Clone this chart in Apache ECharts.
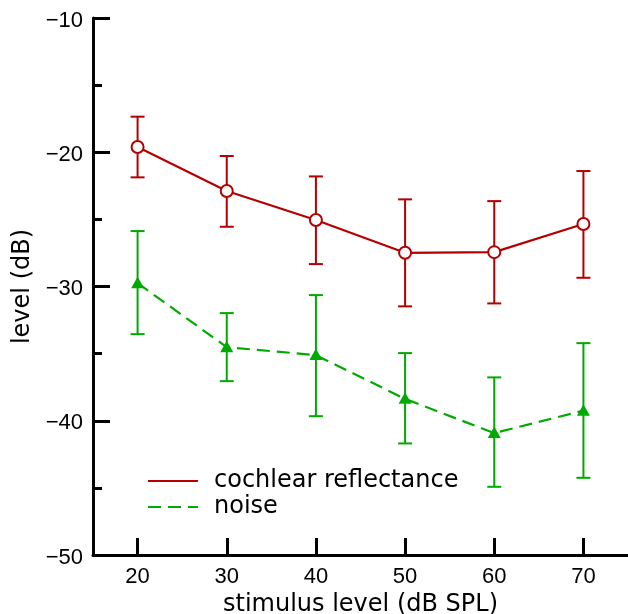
<!DOCTYPE html>
<html>
<head>
<meta charset="utf-8">
<script src="https://cdn.jsdelivr.net/npm/echarts@6/dist/echarts.min.js"></script>
<style>html,body{margin:0;padding:0;background:#fff}#c{width:628px;height:614px}</style>
</head>
<body>
<div id="c"></div>
<script>
const stimulus = [20, 30, 40, 50, 60, 70];
const xTicks = [20, 30, 40, 50, 60, 70];
const reflMean = [-19.61, -22.89, -25.05, -27.49, -27.44, -25.35];
const reflLow  = [-21.87, -25.55, -28.33, -31.48, -31.26, -29.35];
const reflHigh = [-17.35, -20.28, -21.80, -23.51, -23.64, -21.40];
const noiseMean = [-29.75, -34.52, -35.11, -38.37, -40.92, -39.25];
const noiseLow  = [-33.55, -37.05, -39.66, -41.69, -44.92, -44.25];
const noiseHigh = [-25.87, -31.98, -30.64, -34.96, -36.77, -34.22];

const RED = '#b40000';
const GREEN = '#00aa00';
const FONT = 'DejaVu Sans';
const TICKFONT = 'Liberation Sans';

function errSeries(color, mean, low, high, marker) {
  return {
    type: 'custom',
    z: 5,
    silent: true,
    data: stimulus.map((x, i) => [x, low[i], high[i], mean[i]]),
    renderItem: function (params, api) {
      const x = api.value(0);
      const lo = api.coord([x, api.value(1)]);
      const hi = api.coord([x, api.value(2)]);
      const m = api.coord([x, api.value(3)]);
      const hw = 7;
      const ls = { stroke: color, lineWidth: 2 };
      const children = [
        { type: 'line', shape: { x1: lo[0], y1: lo[1], x2: hi[0], y2: hi[1] }, style: ls },
        { type: 'line', shape: { x1: lo[0] - hw, y1: lo[1], x2: lo[0] + hw, y2: lo[1] }, style: ls },
        { type: 'line', shape: { x1: hi[0] - hw, y1: hi[1], x2: hi[0] + hw, y2: hi[1] }, style: ls }
      ];
      if (marker === 'circle') {
        children.push({ type: 'circle', shape: { cx: m[0], cy: m[1], r: 6 }, style: { fill: '#fff', stroke: color, lineWidth: 2 } });
      } else {
        children.push({ type: 'polygon', shape: { points: [[m[0], m[1] - 6.5], [m[0] + 6.5, m[1] + 5], [m[0] - 6.5, m[1] + 5]] }, style: { fill: color } });
      }
      return { type: 'group', children: children };
    }
  };
}

const chart = echarts.init(document.getElementById('c'), null, { renderer: 'canvas' });
chart.setOption({
  animation: false,
  backgroundColor: '#fff',
  textStyle: { fontFamily: FONT },
  grid: { left: 93, right: 0, top: 18, bottom: 59, containLabel: false, outerBoundsMode: 'none' },
  legend: {
    orient: 'vertical',
    left: 147,
    top: 469,
    padding: 0,
    itemWidth: 50,
    itemHeight: 14,
    itemGap: 2,
    itemStyle: { opacity: 0 },
    textStyle: { fontFamily: FONT, fontSize: 24, color: '#000', padding: [0, 0, 0, 11] },
    data: ['cochlear reflectance', 'noise']
  },
  xAxis: {
    type: 'value',
    min: 15,
    max: 75,
    name: 'stimulus level (dB SPL)',
    nameLocation: 'middle',
    nameGap: 36,
    nameTextStyle: { fontFamily: FONT, fontSize: 24, color: '#000' },
    axisLine: { show: true, lineStyle: { color: '#000', width: 3 } },
    axisTick: { show: true, inside: true, length: 17, lineStyle: { color: '#000', width: 3 }, customValues: xTicks },
    axisLabel: { show: true, margin: 11, fontFamily: TICKFONT, fontSize: 22, color: '#000', customValues: xTicks },
    splitLine: { show: false }
  },
  yAxis: {
    type: 'value',
    min: -50,
    max: -10,
    interval: 10,
    name: 'level (dB)',
    nameLocation: 'middle',
    nameGap: 52,
    nameTextStyle: { fontFamily: FONT, fontSize: 24, color: '#000' },
    axisLine: { show: true, lineStyle: { color: '#000', width: 3 } },
    axisTick: { show: true, inside: true, length: 17, lineStyle: { color: '#000', width: 3 } },
    minorTick: { show: true, splitNumber: 2, length: 9, lineStyle: { color: '#000', width: 3 } },
    axisLabel: { show: true, margin: 10, fontFamily: TICKFONT, fontSize: 22, color: '#000',
      verticalAlign: 'top', lineHeight: 5,
      formatter: v => String(v).replace('-', '\u2212') },
    splitLine: { show: false },
    minorSplitLine: { show: false }
  },
  series: [
    {
      name: 'cochlear reflectance',
      type: 'line',
      symbol: 'none',
      z: 3,
      data: stimulus.map((x, i) => [x, reflMean[i]]),
      lineStyle: { color: RED, width: 2.2 },
      itemStyle: { color: RED }
    },
    {
      name: 'noise',
      type: 'line',
      symbol: 'none',
      z: 3,
      data: stimulus.map((x, i) => [x, noiseMean[i]]),
      lineStyle: { color: GREEN, width: 2.2, type: [13, 7] },
      itemStyle: { color: GREEN }
    },
    errSeries(RED, reflMean, reflLow, reflHigh, 'circle'),
    errSeries(GREEN, noiseMean, noiseLow, noiseHigh, 'triangle')
  ]
});
</script>
</body>
</html>
